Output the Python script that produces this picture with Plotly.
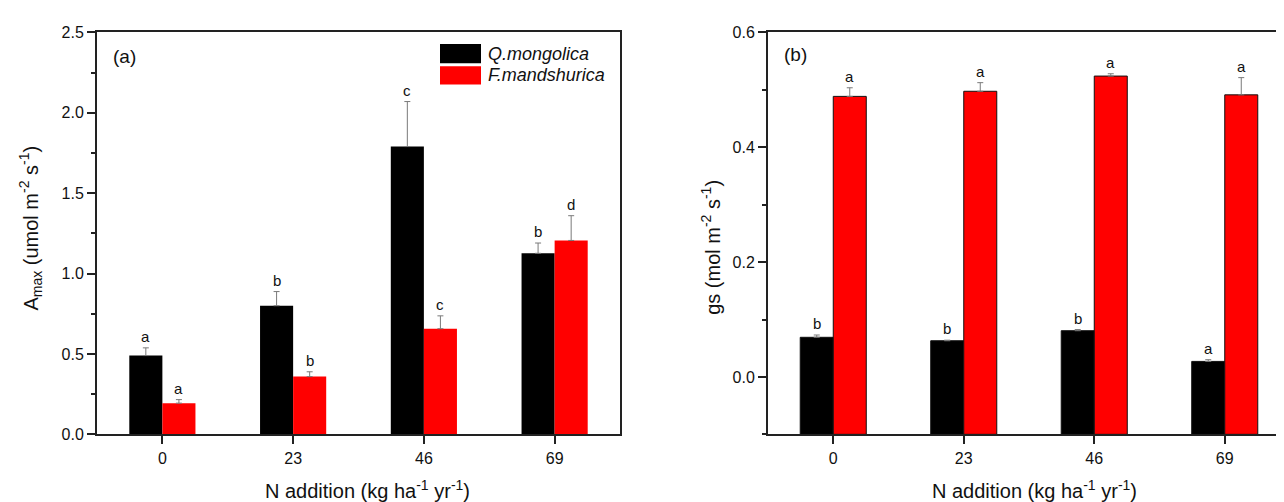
import plotly.graph_objects as go

categories = ["0", "23", "46", "69"]
species = ["Q.mongolica", "F.mandshurica"]

# Panel (a) Amax
amax_q = [0.49, 0.80, 1.79, 1.126]
amax_q_err = [0.048, 0.088, 0.28, 0.064]
amax_f = [0.194, 0.359, 0.657, 1.206]
amax_f_err = [0.022, 0.030, 0.080, 0.154]
amax_q_letters = ["a", "b", "c", "b"]
amax_f_letters = ["a", "b", "c", "d"]

# Panel (b) gs
gs_q = [0.069, 0.063, 0.0805, 0.027]
gs_q_err = [0.004, 0.001, 0.002, 0.003]
gs_f = [0.4886, 0.4975, 0.524, 0.4913]
gs_f_err = [0.015, 0.015, 0.004, 0.030]
gs_q_letters = ["b", "b", "b", "a"]
gs_f_letters = ["a", "a", "a", "a"]

W, H = 1284, 502
FONT = "Liberation Sans, Arial, sans-serif"
AX = "#222222"
ERR = "#7a7a7a"
colors = ["#000000", "#ff0000"]

fig = go.Figure()

def add_panel(xa, ya, series, errs, outline, base):
    for name, vals, err, col in zip(species, series, errs, colors):
        fig.add_trace(go.Bar(
            x=categories, y=[v - base for v in vals], base=base,
            name=name, xaxis=xa, yaxis=ya,
            customdata=vals, hovertemplate="%{customdata}<extra></extra>",
            marker=dict(color=col, line=dict(color="#111111", width=outline)),
            error_y=dict(type="data", array=err, arrayminus=[0] * len(err),
                         symmetric=False, color=ERR, thickness=1, width=3),
            showlegend=False,
        ))

add_panel("x", "y", [amax_q, amax_f], [amax_q_err, amax_f_err], 0, 0)
add_panel("x2", "y2", [gs_q, gs_f], [gs_q_err, gs_f_err], 1, -0.1)

annotations = []
def letters(xref, yref, vals, errs, labs, shift):
    for i, (v, e, t) in enumerate(zip(vals, errs, labs)):
        annotations.append(dict(x=i, y=v + e, xref=xref, yref=yref, text=t,
                                showarrow=False, xshift=shift, yshift=1,
                                yanchor="bottom", xanchor="center",
                                font=dict(family=FONT, size=15, color="#111")))

letters("x", "y", amax_q, amax_q_err, amax_q_letters, -16.5)
letters("x", "y", amax_f, amax_f_err, amax_f_letters, 16.5)
letters("x2", "y2", gs_q, gs_q_err, gs_q_letters, -16.5)
letters("x2", "y2", gs_f, gs_f_err, gs_f_letters, 16.5)

def px_x(p):
    return p / W

def px_y(p):
    return 1 - p / H

# panel labels
annotations.append(dict(x=px_x(103), y=px_y(42), xref="paper", yref="paper", text="(a)",
                        showarrow=False, xanchor="left", yanchor="middle",
                        font=dict(family=FONT, size=19, color="#111")))
annotations.append(dict(x=px_x(774), y=px_y(40), xref="paper", yref="paper", text="(b)",
                        showarrow=False, xanchor="left", yanchor="middle",
                        font=dict(family=FONT, size=19, color="#111")))

# axis titles
xt = "N addition (kg ha<sup>-1</sup> yr<sup>-1</sup>)"
annotations.append(dict(x=px_x(360), y=px_y(490), xref="paper", yref="paper", text=xt,
                        showarrow=False, xanchor="center", yanchor="middle",
                        font=dict(family=FONT, size=20, color="#111")))
annotations.append(dict(x=px_x(1026), y=px_y(490), xref="paper", yref="paper", text=xt,
                        showarrow=False, xanchor="center", yanchor="middle",
                        font=dict(family=FONT, size=20, color="#111")))
annotations.append(dict(x=px_x(23), y=px_y(220), xref="paper", yref="paper",
                        text="A<sub>max</sub> (umol m<sup>-2</sup> s<sup>-1</sup>)",
                        textangle=-90, showarrow=False, xanchor="center", yanchor="middle",
                        font=dict(family=FONT, size=20, color="#111")))
annotations.append(dict(x=px_x(703), y=px_y(240), xref="paper", yref="paper",
                        text="gs (mol m<sup>-2</sup> s<sup>-1</sup>)",
                        textangle=-90, showarrow=False, xanchor="center", yanchor="middle",
                        font=dict(family=FONT, size=20, color="#111")))

# legend (drawn manually)
shapes = []
leg = [(species[0], colors[0], 29, 49), (species[1], colors[1], 52, 71)]
for name, col, y0, y1 in leg:
    shapes.append(dict(type="rect", xref="paper", yref="paper",
                       x0=px_x(432), x1=px_x(473), y0=px_y(y1), y1=px_y(y0),
                       fillcolor=col, line=dict(width=0)))
    annotations.append(dict(x=px_x(478), y=px_y((y0 + y1) / 2), xref="paper", yref="paper",
                            text="<i>" + name + "</i>", showarrow=False,
                            xanchor="left", yanchor="middle",
                            font=dict(family=FONT, size=18, color="#111")))

ydom = [px_y(433), px_y(17)]
common_x = dict(type="category", range=[-0.5, 3.5], showline=True, linecolor=AX, linewidth=2,
                mirror=True, ticks="outside", ticklen=8, tickwidth=1.5, tickcolor=AX,
                showgrid=False, zeroline=False,
                tickfont=dict(family=FONT, size=16, color="#111"))
common_y = dict(showline=True, linecolor=AX, linewidth=2, mirror=True,
                ticks="outside", ticklen=8, tickwidth=1.5, tickcolor=AX,
                showgrid=False, zeroline=False, tickformat=".1f",
                tickfont=dict(family=FONT, size=16, color="#111"))

fig.update_layout(
    width=W, height=H,
    margin=dict(l=0, r=0, t=0, b=0),
    paper_bgcolor="white", plot_bgcolor="white",
    barmode="group", bargap=0.494, bargroupgap=0,
    xaxis=dict(domain=[px_x(89), px_x(612)], anchor="y", **common_x),
    yaxis=dict(domain=ydom, anchor="x", range=[0, 2.5], dtick=0.5, tick0=0,
               minor=dict(dtick=0.25, ticks="outside", ticklen=4, tickwidth=1.5, tickcolor=AX),
               **common_y),
    xaxis2=dict(domain=[px_x(760), px_x(1282)], anchor="y2", **common_x),
    yaxis2=dict(domain=ydom, anchor="x2", range=[-0.1, 0.6], dtick=0.2, tick0=0,
                minor=dict(dtick=0.1, tick0=0, ticks="outside", ticklen=4, tickwidth=1.5, tickcolor=AX),
                **common_y),
    annotations=annotations,
    shapes=shapes,
    showlegend=False,
)

fig.write_html("out.html")
